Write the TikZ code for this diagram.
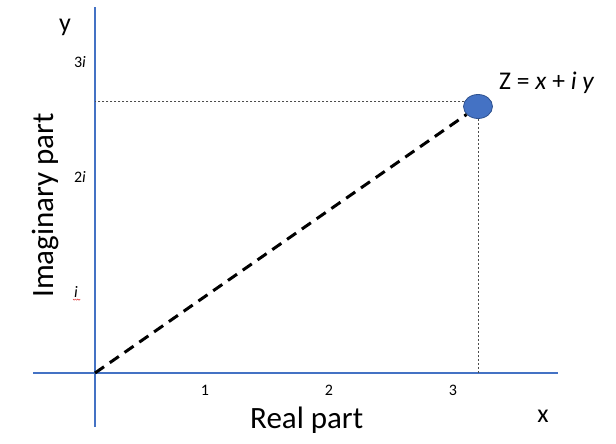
\documentclass[tikz,border=0pt]{standalone}
\usepackage{fontspec}
\setmainfont{Carlito}
\usetikzlibrary{shapes.geometric}
\definecolor{axisblue}{HTML}{4472C4}
\definecolor{pointedge}{HTML}{2F528F}
\definecolor{spellred}{HTML}{E03030}
\tikzset{
  axis/.style={draw=axisblue, line width=1.3pt},
  guide/.style={draw=black!70, line width=0.9pt, dash pattern=on 2pt off 2pt},
  modline/.style={line width=3pt, dash pattern=on 11pt off 7pt},
  ticklab/.style={inner sep=0pt, anchor=base, font=\fontsize{16}{19}\selectfont},
  varlab/.style={inner sep=0pt, anchor=base, font=\fontsize{26}{30}\selectfont},
  axislab/.style={inner sep=0pt, anchor=base west, font=\fontsize{31}{37}\selectfont},
}
\begin{document}
\begin{tikzpicture}[x=1pt,y=-1pt]
\useasboundingbox (0,0) rectangle (616,444);
% axes
\coordinate (origin) at (95,373);
\coordinate (ytop) at (95,7);
\coordinate (ybot) at (95,427);
\coordinate (xleft) at (33,373);
\coordinate (xright) at (558,373);
\draw[axis] (ybot) -- (ytop);
\draw[axis] (xleft) -- (xright);
% the point z
\node[ellipse, draw=pointedge, fill=axisblue, line width=0.8pt, inner sep=0pt,
  minimum width=29pt, minimum height=24pt] (z) at (478,106.5) {};
\draw[guide] (z.160) -- (z.160 -| origin);
\draw[guide] (z.south) -- (z.south |- origin);
\draw[modline] (origin) -- (z);
\node[inner sep=0pt, anchor=base west, font=\fontsize{25.5}{30}\selectfont] (zlab) at (499,89)
  {Z = \textit{x} + \textit{i y}};
% imaginary axis
\node[varlab] (ylab) at (65,32) {y};
\node[ticklab] (im3) at (80,67) {3\textit{i}};
\node[ticklab] (im2) at (80,182) {2\textit{i}};
\node[ticklab] (im1) at (76,297) {\textit{i}};
\draw[spellred, line width=0.5pt] ([xshift=-1pt,yshift=-2pt]im1.base west)
  -- ++(1.2,1.2) -- ++(1.2,-1.2) -- ++(1.2,1.2) -- ++(1.2,-1.2) -- ++(1.2,1.2) -- ++(1.2,-1.2);
\node[axislab, rotate=90] (imlab) at (53,298) {Imaginary part};
% real axis
\node[ticklab] (re1) at (205,395) {1};
\node[ticklab] (re2) at (329,395) {2};
\node[ticklab] (re3) at (453,395) {3};
\node[varlab] (xlab) at (543,422) {x};
\node[axislab] (relab) at (250,428) {Real part};
\end{tikzpicture}
\end{document}
